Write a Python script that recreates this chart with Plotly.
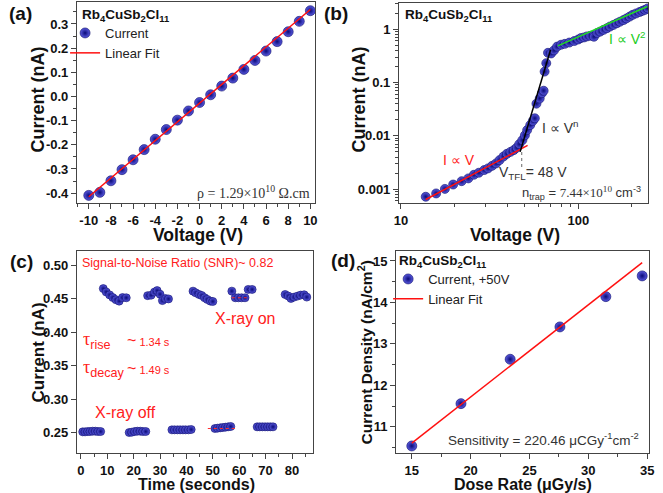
import plotly.graph_objects as go

W, H = 663, 493

# ---------------- Data ----------------
# (a) I-V linear
volt_a = [-10, -9, -8, -7, -6, -5, -4, -3, -2, -1, 0, 1, 2, 3, 4, 5, 6, 7, 8, 9, 10]
cur_a = [-0.4095, -0.397, -0.349, -0.303, -0.262, -0.220, -0.177, -0.137, -0.098, -0.060,
         -0.025, 0.007, 0.043, 0.076, 0.112, 0.149, 0.188, 0.227, 0.268, 0.311, 0.355]
fit_a_v = [-10, 10]
fit_a_i = [-0.415, 0.36]

# (b) SCLC log-log
volt_b = [13.8, 15.8, 17.7, 19.7, 22.0, 24.0, 25.8, 27.5, 29.5, 31.0, 32.7, 34.4, 36.0, 37.9,
          39.6, 41.5, 43.3, 45.0, 46.5, 48.4, 50.0, 51.5, 53.6, 55.4, 56.9, 58.1, 60.6, 62.4,
          63.8, 64.6, 66.0, 67.5, 70.3, 73.0, 76.0, 80.0, 84.0, 89.0, 95.0, 100.0, 103.5, 108.0,
          112.0, 117.0, 122.6, 122.6, 128.0, 133.0, 139.0, 145.0, 151.0, 158.0, 165.0, 172.0,
          180.0, 187.0, 195.0, 203.0, 212.0, 222.0, 230.0, 238.0, 246.0]
cur_b = [0.00072, 0.00083, 0.00101, 0.00122, 0.00141, 0.00159, 0.00186, 0.00203, 0.00228,
         0.00245, 0.00274, 0.00304, 0.0035, 0.0041, 0.0046, 0.0050, 0.0054, 0.0060, 0.0070,
         0.0083, 0.0102, 0.0128, 0.0159, 0.019, 0.0213, 0.040, 0.050, 0.063, 0.070, 0.16, 0.23,
         0.36, 0.35, 0.40, 0.47, 0.51, 0.53, 0.56, 0.60, 0.64, 0.68, 0.70, 0.73, 0.75, 0.78,
         0.72, 0.85, 0.90, 0.97, 1.04, 1.12, 1.20, 1.29, 1.38, 1.48, 1.59, 1.72, 1.86, 1.97,
         2.10, 2.20, 2.30, 2.45]
fit_ohm_v = [13.8, 51.8]
fit_ohm_i = [0.00064, 0.0066]
fit_tfl_v = [47.0, 69.8]
fit_tfl_i = [0.0050, 0.41]
fit_child_v = [76.7, 245.0]
fit_child_i = [0.485, 2.66]
vtfl_v = [48.0, 48.0]
vtfl_i = [0.0026, 0.0055]

# (c) X-ray on/off response
t_off = [0.7, 1.6, 2.6, 3.5, 4.5, 5.5, 6.5, 7.5,
         18.3, 19.3, 20.4, 21.4, 22.5, 23.5, 24.6,
         34.5, 35.5, 36.6, 37.6, 38.7, 39.7, 40.8, 41.8,
         50.8, 51.8, 52.8, 53.8, 54.8, 55.8, 56.8,
         66.8, 67.8, 68.8, 69.8, 70.8, 71.8, 72.8]
i_off = [0.2515, 0.2515, 0.252, 0.252, 0.2525, 0.2525, 0.252, 0.252,
         0.2505, 0.251, 0.252, 0.2525, 0.2525, 0.252, 0.252,
         0.2545, 0.2545, 0.2545, 0.2545, 0.2545, 0.2545, 0.2545, 0.255,
         0.2565, 0.257, 0.2575, 0.258, 0.2585, 0.259, 0.2595,
         0.259, 0.259, 0.259, 0.259, 0.259, 0.259, 0.259]
t_on = [8.5, 9.6, 10.9, 12.1, 13.3, 14.5, 15.8, 17.2,
        25.3, 26.6, 27.9, 28.9, 30.0, 30.9, 32.1, 33.2,
        42.5, 43.5, 44.8, 45.8, 46.9, 47.9, 49.1, 50.0,
        57.2, 58.5, 59.7, 60.9, 62.2, 63.4, 64.9,
        77.4, 78.6, 79.6, 80.8, 82.1, 83.3, 84.6, 85.6]
i_on = [0.465, 0.460, 0.4556, 0.4516, 0.4484, 0.4463, 0.4516, 0.4513,
        0.4545, 0.4551, 0.4598, 0.462, 0.4566, 0.4471, 0.4501, 0.4496,
        0.4612, 0.4587, 0.4562, 0.4547, 0.4513, 0.4488, 0.4463, 0.4458,
        0.4612, 0.4513, 0.4513, 0.4513, 0.4513, 0.4637, 0.4637,
        0.4562, 0.4538, 0.4503, 0.4523, 0.4538, 0.4553, 0.4558, 0.4523]
dot_off_t = [48.1, 59.1]
dot_off_i = [0.2565, 0.2565]
dot_on_t = [57.2, 63.4]
dot_on_i = [0.4513, 0.4513]

# (d) dose-rate dependence
dose = [15.0, 19.18, 23.36, 27.59, 31.49, 34.58]
dens = [10.54, 11.56, 12.63, 13.41, 14.14, 14.64]
fit_d_x = [15.0, 34.58]
fit_d_y = [10.61, 14.96]

# ---------------- Helpers ----------------
def px(x):
    return x / W

def py(y):
    return 1 - y / H

FONT = "Liberation Sans"
SERIF = "Liberation Serif"
AXC = "#444444"

def sphere(size):
    return dict(size=size, color="#5a5ae0",
                gradient=dict(type="radial", color="#0a0a78"),
                line=dict(width=0.6, color="#0a0a68"))

def axis(**kw):
    d = dict(showline=True, linecolor=AXC, linewidth=1, mirror=True,
             ticks="outside", ticklen=5, tickcolor=AXC, tickwidth=1,
             tickfont=dict(family=FONT, size=13, color="#111", weight="bold"),
             showgrid=False, zeroline=False, fixedrange=True)
    d.update(kw)
    return d

fig = go.Figure()

# (a)
fig.add_trace(go.Scatter(x=volt_a, y=cur_a, mode="markers", marker=sphere(10),
                         name="Current", xaxis="x", yaxis="y", legend="legend"))
fig.add_trace(go.Scatter(x=fit_a_v, y=fit_a_i, mode="lines", line=dict(color="#ff1010", width=1.5),
                         name="Linear Fit", xaxis="x", yaxis="y", legend="legend"))

# (b)
fig.add_trace(go.Scatter(x=volt_b, y=cur_b, mode="markers", marker=sphere(9),
                         showlegend=False, xaxis="x2", yaxis="y2"))
fig.add_trace(go.Scatter(x=fit_ohm_v, y=fit_ohm_i, mode="lines", line=dict(color="#ff1010", width=1.5),
                         showlegend=False, xaxis="x2", yaxis="y2"))
fig.add_trace(go.Scatter(x=fit_tfl_v, y=fit_tfl_i, mode="lines", line=dict(color="#000000", width=1.5),
                         showlegend=False, xaxis="x2", yaxis="y2"))
fig.add_trace(go.Scatter(x=fit_child_v, y=fit_child_i, mode="lines", line=dict(color="#22dd22", width=1.5),
                         showlegend=False, xaxis="x2", yaxis="y2"))
fig.add_trace(go.Scatter(x=vtfl_v, y=vtfl_i, mode="lines", line=dict(color="#666", width=1, dash="dot"),
                         showlegend=False, xaxis="x2", yaxis="y2"))

# (c)
fig.add_trace(go.Scatter(x=t_off, y=i_off, mode="markers", marker=sphere(8),
                         showlegend=False, xaxis="x3", yaxis="y3"))
fig.add_trace(go.Scatter(x=t_on, y=i_on, mode="markers", marker=sphere(8),
                         showlegend=False, xaxis="x3", yaxis="y3"))
fig.add_trace(go.Scatter(x=dot_off_t, y=dot_off_i, mode="lines", line=dict(color="#ff3030", width=1, dash="dot"),
                         showlegend=False, xaxis="x3", yaxis="y3"))
fig.add_trace(go.Scatter(x=dot_on_t, y=dot_on_i, mode="lines", line=dict(color="#ff3030", width=1, dash="dot"),
                         showlegend=False, xaxis="x3", yaxis="y3"))

# (d)
fig.add_trace(go.Scatter(x=dose, y=dens, mode="markers", marker=sphere(10),
                         name="Current, +50V", xaxis="x4", yaxis="y4", legend="legend2"))
fig.add_trace(go.Scatter(x=fit_d_x, y=fit_d_y, mode="lines", line=dict(color="#ff1010", width=1.5),
                         name="Linear Fit", xaxis="x4", yaxis="y4", legend="legend2"))

# axes
a_yt = [-0.4, -0.3, -0.2, -0.1, 0.0, 0.1, 0.2, 0.3]
a_xt = [-10, -8, -6, -4, -2, 0, 2, 4, 6, 8, 10]
b_xminor = [20, 30, 40, 50, 60, 70, 80, 90, 200]
b_yminor = [m * 10.0 ** e for e in (-4, -3, -2, -1, 0) for m in range(2, 10)]
c_yt = [0.25, 0.30, 0.35, 0.40, 0.45, 0.50]

layout_axes = dict(
    xaxis=axis(domain=[px(73), px(315)], anchor="y", range=[-11.07, 10.44],
               tickvals=a_xt, ticktext=[str(v) for v in a_xt],
               minor=dict(ticks="outside", ticklen=3, dtick=1, tickcolor=AXC)),
    yaxis=axis(domain=[py(203), py(2)], anchor="x", range=[-0.441, 0.391],
               tickvals=a_yt, ticktext=["%.1f" % v for v in a_yt],
               minor=dict(ticks="outside", ticklen=3, dtick=0.05, tickcolor=AXC)),
    xaxis2=axis(domain=[px(400), px(653)], anchor="y2", type="log", range=[0.989, 2.394],
                tickvals=[10, 100], ticktext=["10", "100"],
                minor=dict(ticks="outside", ticklen=3, tickvals=b_xminor, tickcolor=AXC)),
    yaxis2=axis(domain=[py(203), py(3)], anchor="x2", type="log", range=[-3.26, 0.49],
                tickvals=[0.001, 0.01, 0.1, 1], ticktext=["0.001", "0.01", "0.1", "1"],
                minor=dict(ticks="outside", ticklen=3, tickvals=b_yminor, tickcolor=AXC)),
    xaxis3=axis(domain=[px(73), px(313)], anchor="y3", range=[-1.5, 88.06],
                tick0=0, dtick=10,
                minor=dict(ticks="outside", ticklen=3, dtick=5, tickcolor=AXC)),
    yaxis3=axis(domain=[py(453), py(251)], anchor="x3", range=[0.22, 0.521],
                tickvals=c_yt, ticktext=["%.2f" % v for v in c_yt]),
    xaxis4=axis(domain=[px(397), px(654)], anchor="y4", range=[13.66, 35.17],
                tick0=15, dtick=5,
                minor=dict(ticks="outside", ticklen=3, dtick=2.5, tickcolor=AXC)),
    yaxis4=axis(domain=[py(453), py(251)], anchor="x4", range=[10.37, 15.24],
                tick0=11, dtick=1,
                minor=dict(ticks="outside", ticklen=3, dtick=0.5, tickcolor=AXC)),
)

def ann(text, x, y, size=13, color="#222", bold=False, xanchor="left", yanchor="middle",
        angle=0, family=FONT):
    return dict(text=text, x=px(x), y=py(y), xref="paper", yref="paper", showarrow=False,
                xanchor=xanchor, yanchor=yanchor, textangle=angle,
                font=dict(family=family, size=size, color=color,
                          weight="bold" if bold else "normal"))

TITLE = "Rb<sub>4</sub>CuSb<sub>2</sub>Cl<sub>11</sub>"
SANS_SPAN = "<span style='font-family:Liberation Sans'>%s</span>"
annotations = [
    # panel labels
    ann("(a)", 2, 14, size=19, color="#111", bold=True),
    ann("(b)", 322, 14, size=19, color="#111", bold=True),
    ann("(c)", 3, 261, size=19, color="#111", bold=True),
    ann("(d)", 329, 260, size=19, color="#111", bold=True),
    # compound labels
    ann(TITLE, 76, 15, size=13.5, color="#111", bold=True),
    ann(TITLE, 404, 15, size=13.5, color="#111", bold=True),
    ann(TITLE, 398, 261, size=13.5, color="#111", bold=True),
    # axis titles
    ann("Voltage (V)", 196, 235, size=17.5, color="#111", bold=True, xanchor="center"),
    ann("Current (nA)", 33, 100, size=18, color="#111", bold=True, xanchor="center", angle=-90),
    ann("Voltage (V)", 518, 235, size=17.5, color="#111", bold=True, xanchor="center"),
    ann("Current (nA)", 359, 100, size=18, color="#111", bold=True, xanchor="center", angle=-90),
    ann("Time (seconds)", 194, 484.5, size=16, color="#111", bold=True, xanchor="center"),
    ann("Current (nA)", 33, 353, size=17, color="#111", bold=True, xanchor="center", angle=-90),
    ann("Dose Rate (\u03bcGy/s)", 526, 484.5, size=16, color="#111", bold=True, xanchor="center"),
    ann("Current Density (nA/cm<sup>2</sup>)", 366, 352, size=15.5, color="#111", bold=True,
        xanchor="center", angle=-90),
    # (a) resistivity
    ann("\u03c1 = 1.29\u00d710<sup>10</sup> \u03a9.cm", 312, 192, size=14, color="#333",
        xanchor="right", family=SERIF),
    # (b) labels
    ann("I \u221d V", 443, 160, size=14, color="#ff2020"),
    ann("I \u221d V<sup>n</sup>", 543, 127, size=14, color="#333"),
    ann("I \u221d V<sup>2</sup>", 611, 38, size=14, color="#22cc22"),
    ann("V<sub>TFL</sub>= 48 V", 500, 173, size=14, color="#333"),
    ann("n<sub>trap</sub> = <span style='font-family:Liberation Serif'>7.44\u00d710<sup>10</sup></span> cm<sup>-3</sup>",
        648, 193, size=13, color="#333", xanchor="right"),
    # (c) labels
    ann("Signal-to-Noise Ratio (SNR)~ 0.82", 76, 263, size=12.5, color="#ff2020"),
    ann("X-ray on", 211, 318, size=16, color="#ff2020"),
    ann("X-ray off", 89, 412, size=16, color="#ff2020"),
    ann("\u03c4<sub>" + SANS_SPAN % "rise" + "</sub>", 77, 340, size=18, color="#ff2020", family=SERIF),
    ann("<span style='font-size:16px'>~</span> 1.34 s", 122, 340, size=11, color="#ff2020"),
    ann("\u03c4<sub>" + SANS_SPAN % "decay" + "</sub>", 77, 368, size=18, color="#ff2020", family=SERIF),
    ann("<span style='font-size:16px'>~</span> 1.49 s", 122, 368, size=11, color="#ff2020"),
    # (d) sensitivity
    ann("Sensitivity = 220.46 \u03bcCGy<sup>-1</sup>cm<sup>-2</sup>", 646, 439, size=13.5,
        color="#333", xanchor="right"),
]

fig.update_layout(
    width=W, height=H, margin=dict(l=0, r=0, t=0, b=0),
    paper_bgcolor="white", plot_bgcolor="white",
    font=dict(family=FONT, color="#222"),
    annotations=annotations,
    legend=dict(x=px(61), y=py(18), xanchor="left", yanchor="top",
                bgcolor="rgba(0,0,0,0)", font=dict(family=FONT, size=13, color="#222"),
                tracegroupgap=0, itemwidth=30),
    legend2=dict(x=px(389), y=py(264), xanchor="left", yanchor="top",
                 bgcolor="rgba(0,0,0,0)", font=dict(family=FONT, size=13, color="#222"),
                 tracegroupgap=0, itemwidth=30),
    **layout_axes,
)

fig.write_html("out.html", config=dict(displayModeBar=False))
